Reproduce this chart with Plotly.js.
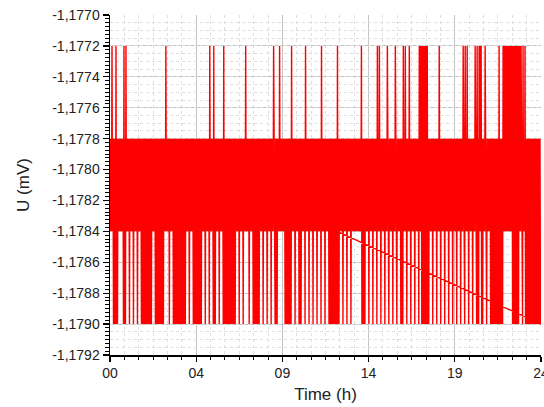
<!DOCTYPE html>
<html>
<head>
<meta charset="utf-8">
<script src="https://cdn.plot.ly/plotly-3.0.1.min.js"></script>
<style>
  html, body { margin: 0; padding: 0; background: #fff; }
  #chart { width: 544px; height: 407px; }
</style>
</head>
<body>
<div id="chart"></div>
<script>
// Voltage record: one sample every 100 s over 24 h (36 samples per hour)
const sampleSeconds = 100;

// Quantised levels of the digitiser (mV), one code letter per level
const levelCodes = ['a', 'b', 'c', 'd'];
const levelValues = [-1.1772, -1.1778, -1.1784, -1.1790];

// Sample codes, one row per hour; the final row is the 24:00 sample
const sampleRows = [
  'bcbcacbdbdbdadbdbcbcbcbcbcbdadbdacbc',
  'bcbdbcbcbcbdbcbcbcbdbcbcbcbdbdbdbdbd',
  'bdbdbdbdbdbdbcbcbcbdbdbdbdbdbdbdbdbd',
  'bcbcacbcbcbdbcbcbcbdbdbdbdbdbdbdbdbd',
  'bdbdbdbdbcbcbcbdbcbcbcbdbdbdbdbdbdbd',
  'bdbdbcbcbcbdbcbcbcbdacbcbcbdadbdbcbc',
  'bcbdbcbcbcbdadbdbdbdbdbdbdbdbdbdbdbd',
  'bcbcbcbdbcbcbcbdbcbcacbcbcbdbcbcbcbd',
  'bdbdbdbdbdbdbcbcbcbdbcbcbcbdbcbcbcbd',
  'bcbcacbdbdbdbcbcacbcbcbcbcbdbdbdbdbd',
  'bdbdacbcbcbdbcbcbcbdbdbdbcbcbcbdacbc',
  'bcbdbcbcbcbdbcbcbcbdbcbcbcbdacbcbcbd',
  'bcbcbcbdbdbdbdbdbdbdbdbdadbdbcbcbcbd',
  'bcbcbcbdbcbcbcbdbcbcbcbcbcbcbcbcbcbc',
  'adbdbdbdbcbcbcbdbcbcbcbdbcbcbcbdacbc',
  'acbdbcbcbcbdbcbcacbdbcbcbcbdbcbcacbd',
  'bcbcbcbdbdbdacbcacbdbcbcacbdbcbcbcbd',
  'bcbcbcbdacacadadadadadadadbdbcbcbcbd',
  'bcbcbcbdbcbcacbdbcbcbcbdbcbcbcbdbcbc',
  'bcbdbcbcbcbdbcbcbcbdbcbcacbdacbcacbd',
  'bcbcbcbdbcbcacbdadbdacacadbdbcbcacbd',
  'bcbcbcbdbdbdbdbdbdbdbdbdadbdbdbdacac',
  'acacacacacacacadadadadadadadacacacbd',
  'acbcadbdbdbdbdbdbdbdbdbdbdbdbdbdbdbd',
  'd'
];

// Record appended after the 24:00 sample
const tailHours = [12.64];
const tailValues = [-1.1784];

// Axis ticks
const xTickValues = [0, 4.8, 9.6, 14.4, 19.2, 24];
const xTickLabels = ['00', '04', '09', '14', '19', '24'];
const yTickValues = [-1.1792, -1.1790, -1.1788, -1.1786, -1.1784, -1.1782,
                     -1.1780, -1.1778, -1.1776, -1.1774, -1.1772, -1.1770];
const yTickLabels = ['-1,1792', '-1,1790', '-1,1788', '-1,1786', '-1,1784', '-1,1782',
                     '-1,1780', '-1,1778', '-1,1776', '-1,1774', '-1,1772', '-1,1770'];

// Expand the code rows into time / voltage pairs
const codes = sampleRows.join('');
const hours = [];
const volts = [];
for (let i = 0; i < codes.length; i++) {
  hours.push(i * sampleSeconds / 3600);
  volts.push(levelValues[levelCodes.indexOf(codes[i])]);
}
const xs = hours.concat(tailHours);
const ys = volts.concat(tailValues);

const yRange = [-1.1792, -1.1770];
const font = 'Liberation Sans, Arial, Helvetica, sans-serif';

const trace = {
  type: 'scatter',
  mode: 'lines',
  x: xs,
  y: ys,
  line: { color: '#ff0000', width: 1.4 },
  hoverinfo: 'x+y'
};

// Empty trace on the overlay axis carrying the dotted horizontal grid
const gridTrace = {
  type: 'scatter', mode: 'lines', x: [], y: [], yaxis: 'y2',
  hoverinfo: 'skip', showlegend: false
};

const layout = {
  width: 544,
  height: 407,
  margin: { l: 110, r: 3, t: 15, b: 52, pad: 0 },
  paper_bgcolor: '#ffffff',
  plot_bgcolor: '#ffffff',
  showlegend: false,
  font: { family: font, size: 14, color: '#222222' },
  xaxis: {
    range: [0, 24],
    tickmode: 'array',
    tickvals: xTickValues,
    ticktext: xTickLabels,
    ticklabeloverflow: 'allow',
    ticks: 'outside',
    ticklen: 5,
    tickwidth: 1.3,
    tickcolor: '#000000',
    showline: true,
    linecolor: '#000000',
    linewidth: 1.5,
    showgrid: true,
    gridcolor: '#c4c4c4',
    gridwidth: 1,
    zeroline: false,
    tickfont: { family: font, size: 14, color: '#222222' },
    title: { text: 'Time (h)', font: { family: font, size: 17, color: '#222222' }, standoff: 8 },
    minor: {
      tickmode: 'linear', tick0: 0, dtick: 0.8,
      ticks: 'outside', ticklen: 3, tickwidth: 1, tickcolor: '#000000',
      showgrid: true, gridcolor: '#dedede', gridwidth: 1, griddash: 'dot'
    }
  },
  yaxis: {
    range: yRange,
    tickmode: 'array',
    tickvals: yTickValues,
    ticktext: yTickLabels,
    ticks: 'outside',
    ticklen: 6,
    tickwidth: 1.3,
    tickcolor: '#000000',
    showline: true,
    linecolor: '#000000',
    linewidth: 1.5,
    showgrid: true,
    gridcolor: '#c4c4c4',
    gridwidth: 1,
    zeroline: false,
    tickfont: { family: font, size: 14, color: '#222222' },
    title: { text: 'U (mV)', font: { family: font, size: 17, color: '#222222' }, standoff: 18 },
    minor: {
      tickmode: 'linear', tick0: -1.1792, dtick: 0.000025,
      ticks: 'outside', ticklen: 3.5, tickwidth: 1, tickcolor: '#000000',
      showgrid: false
    }
  },
  yaxis2: {
    overlaying: 'y',
    range: yRange,
    tickmode: 'linear',
    tick0: -1.1792,
    dtick: 0.00005,
    showticklabels: false,
    ticks: '',
    showline: false,
    zeroline: false,
    showgrid: true,
    gridcolor: '#dedede',
    gridwidth: 1,
    griddash: 'dot'
  }
};

Plotly.newPlot('chart', [gridTrace, trace], layout, { staticPlot: true, displayModeBar: false });
</script>
</body>
</html>
